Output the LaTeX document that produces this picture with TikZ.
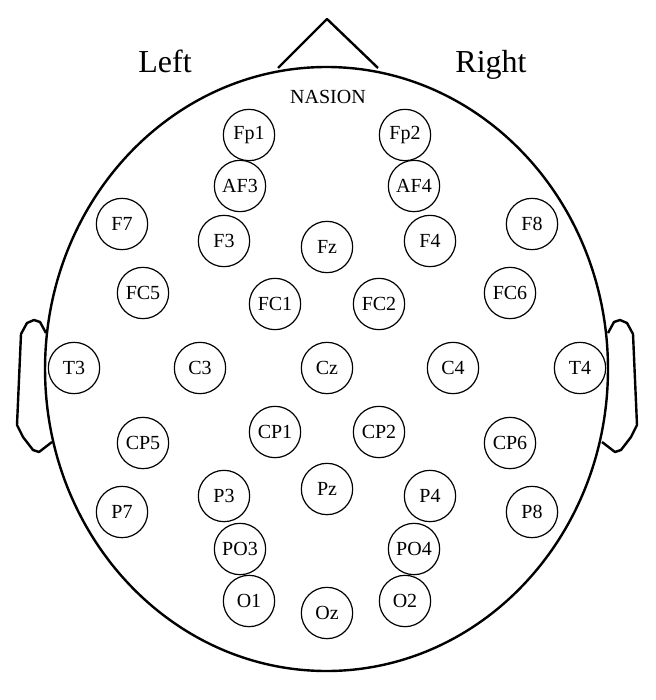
\documentclass[tikz,border=0pt]{standalone}
\usepackage{fontspec}
\setmainfont{Liberation Serif}

\begin{document}
\begin{tikzpicture}[
  x=0.75pt, y=-0.75pt,
  elec/.style={draw, circle, line width=0.9pt, minimum size=38.5pt, inner sep=0pt,
               font=\fontsize{15}{17}\selectfont},
  headline/.style={line width=1.8pt, line join=round},
  side/.style={font=\fontsize{24}{28}\selectfont, anchor=base},
  lab/.style={font=\fontsize{15}{17}\selectfont, anchor=base},
]
\useasboundingbox (0,0) rectangle (656,700);
% head outline, nose and ears
\draw[headline] (326.5,369) ellipse (211.1pt and 226.5pt);
\draw[headline] (278,68) -- (327,19) -- (378,68);
\draw[headline] (46,333) -- (40,322) -- (34,320) -- (27,323) -- (21,334) -- (17,425)
  -- (23,437) -- (33,450) -- (39,452) -- (52,442);
\draw[headline] (608,333) -- (614,322) -- (620,320) -- (627,323) -- (633,334) -- (637,425)
  -- (631,437) -- (621,450) -- (615,452) -- (602,442);
\node[side] (left) at (165,72) {Left};
\node[side] (right) at (491,72) {Right};
\node[lab] (nasion) at (328,103) {NASION};
% electrodes
\node[elec] (Fp1) at (249,135) {Fp1};
\node[elec] (Fp2) at (405,135) {Fp2};
\node[elec] (AF3) at (240,186) {AF3};
\node[elec] (AF4) at (414,186) {AF4};
\node[elec] (F7)  at (122,224) {F7};
\node[elec] (F3)  at (224,241) {F3};
\node[elec] (Fz)  at (327,247) {Fz};
\node[elec] (F4)  at (430,241) {F4};
\node[elec] (F8)  at (532,224) {F8};
\node[elec] (FC5) at (143,293) {FC5};
\node[elec] (FC1) at (275,304) {FC1};
\node[elec] (FC2) at (379,304) {FC2};
\node[elec] (FC6) at (510,293) {FC6};
\node[elec] (T3)  at (74,368)  {T3};
\node[elec] (C3)  at (200,368) {C3};
\node[elec] (Cz)  at (327,368) {Cz};
\node[elec] (C4)  at (453,368) {C4};
\node[elec] (T4)  at (580,368) {T4};
\node[elec] (CP5) at (143,443) {CP5};
\node[elec] (CP1) at (275,432) {CP1};
\node[elec] (CP2) at (379,432) {CP2};
\node[elec] (CP6) at (510,443) {CP6};
\node[elec] (P7)  at (122,512) {P7};
\node[elec] (P3)  at (224,496) {P3};
\node[elec] (Pz)  at (327,489) {Pz};
\node[elec] (P4)  at (430,496) {P4};
\node[elec] (P8)  at (532,512) {P8};
\node[elec] (PO3) at (240,549) {PO3};
\node[elec] (PO4) at (414,549) {PO4};
\node[elec] (O1)  at (249,601) {O1};
\node[elec] (Oz)  at (327,613) {Oz};
\node[elec] (O2)  at (405,601) {O2};
\end{tikzpicture}
\end{document}
